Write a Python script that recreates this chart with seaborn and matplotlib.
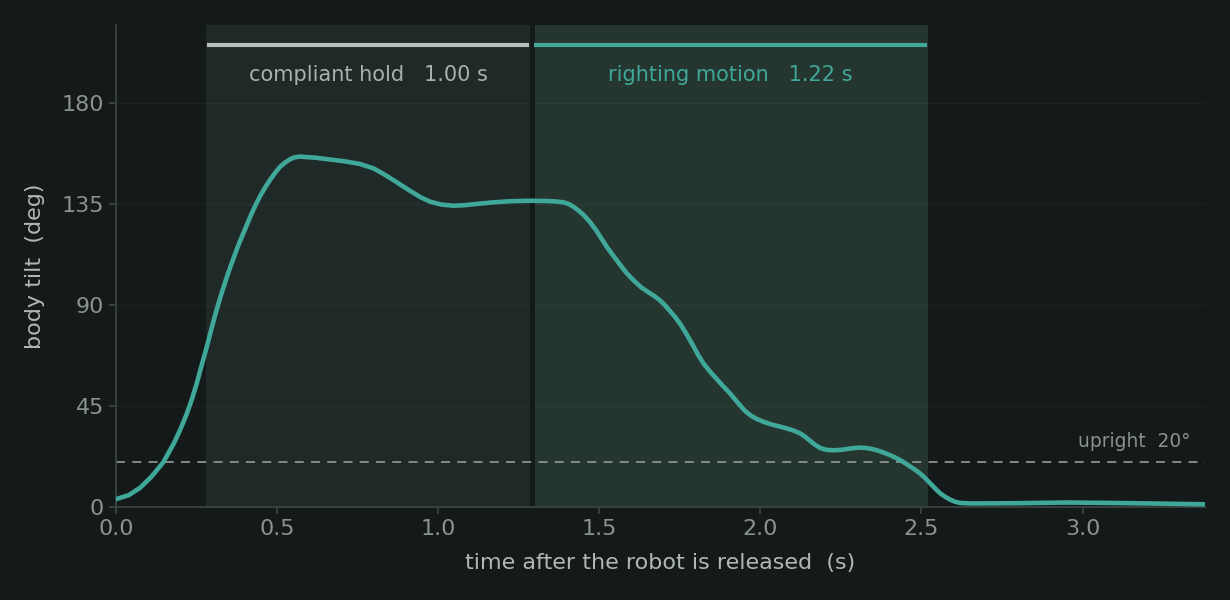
import numpy as np
import pandas as pd
import matplotlib
matplotlib.use("Agg")
import matplotlib.pyplot as plt
import seaborn as sns

# body tilt
time_s = [0.00, 0.04, 0.075, 0.11, 0.147, 0.18, 0.2, 0.219, 0.235, 0.25, 0.265, 0.281,
          0.295, 0.31, 0.327, 0.344, 0.357, 0.37, 0.382, 0.395, 0.408, 0.42, 0.433, 0.447,
          0.463, 0.48, 0.495, 0.509, 0.525, 0.54, 0.555, 0.571, 0.62, 0.665, 0.71, 0.758,
          0.80, 0.83, 0.87, 0.913, 0.945, 0.975, 1.01, 1.048, 1.08, 1.12, 1.17, 1.224,
          1.28, 1.337, 1.365, 1.389, 1.405, 1.42, 1.435, 1.451, 1.47, 1.49, 1.507, 1.524,
          1.545, 1.565, 1.585, 1.607, 1.63, 1.65, 1.67, 1.689, 1.705, 1.72, 1.735, 1.752,
          1.77, 1.79, 1.807, 1.824, 1.845, 1.865, 1.885, 1.907, 1.93, 1.95, 1.97, 1.99,
          2.01, 2.035, 2.06, 2.083, 2.105, 2.124, 2.14, 2.155, 2.17, 2.186, 2.205, 2.228,
          2.25, 2.27, 2.29, 2.311, 2.33, 2.345, 2.362, 2.38, 2.40, 2.418, 2.435, 2.452,
          2.47, 2.49, 2.507, 2.52, 2.535, 2.547, 2.559, 2.575, 2.59, 2.605, 2.621, 2.65,
          2.683, 2.80, 2.95, 3.10, 3.25, 3.38]
tilt_deg = [3.5, 5.3, 8.6, 13.5, 20.0, 28.5, 34.7, 41.3, 47.8, 54.8, 62.8, 71.0,
            78.8, 86.8, 95.0, 102.6, 107.9, 113.0, 117.6, 122.0, 126.5, 130.6, 134.6, 138.6,
            142.6, 146.3, 149.3, 151.7, 153.7, 155.1, 156.0, 156.3, 155.8, 155.0, 154.2, 153.0,
            151.0, 148.6, 145.0, 141.0, 138.2, 136.2, 134.9, 134.4, 134.6, 135.2, 135.9, 136.4,
            136.6, 136.5, 136.3, 135.9, 135.2, 133.9, 132.3, 130.3, 127.3, 123.5, 119.7, 115.9,
            111.8, 108.0, 104.3, 101.0, 98.0, 96.0, 94.2, 92.1, 89.8, 87.3, 84.8, 81.5,
            77.3, 72.3, 67.8, 63.9, 60.2, 57.0, 53.8, 50.5, 46.5, 43.2, 40.8, 39.2,
            38.0, 36.8, 35.9, 35.0, 34.0, 32.8, 31.2, 29.4, 27.7, 26.3, 25.5, 25.3,
            25.5, 25.9, 26.3, 26.5, 26.3, 25.9, 25.3, 24.4, 23.3, 22.1, 20.8, 19.3,
            17.6, 15.6, 13.5, 11.6, 9.4, 7.6, 6.0, 4.4, 3.2, 2.3, 1.8, 1.6,
            1.6, 1.7, 2.0, 1.8, 1.5, 1.2]

phase_names = ["compliant hold", "righting motion"]
phase_start = [0.28, 1.295]
phase_end = [1.285, 2.52]
phase_dur = [1.00, 1.22]
upright_thresh = 20
split_t = 1.29

bg = "#141919"
teal = "#3fa898"
span_cols = ["#1f2928", "#253530"]
bar_cols = ["#b9bdbb", teal]
label_cols = ["#a9b0ae", teal]
muted = "#8a9391"

sns.set_theme(style="dark")
plt.rcParams["font.family"] = ["DejaVu Sans"]

fig = plt.figure(figsize=(12.3, 6), dpi=100, facecolor=bg)
ax = fig.add_axes([0.0943, 0.155, 0.8854, 0.8033])
ax.set_facecolor(bg)

df = pd.DataFrame({"t": time_s, "tilt": tilt_deg})

for i in range(2):
    ax.axvspan(phase_start[i], phase_end[i], color=span_cols[i], zorder=0, lw=0)
    ax.plot([phase_start[i] + 0.003, phase_end[i] - 0.003], [206, 206],
            color=bar_cols[i], lw=3, solid_capstyle="butt", zorder=3)
    mid = (phase_start[i] + phase_end[i]) / 2
    ax.text(mid, 192.8, f"{phase_names[i]}   {phase_dur[i]:.2f} s",
            ha="center", va="center", fontsize=15, color=label_cols[i], zorder=4)

ax.axvline(split_t, color=bg, lw=3.6, zorder=2)

ax.axhline(upright_thresh, color=muted, lw=1.3, ls=(0, (5, 4)), zorder=2)
ax.text(3.335, 29.3, f"upright  {upright_thresh}°", ha="right", va="center",
        fontsize=13.4, color=muted)

sns.lineplot(data=df, x="t", y="tilt", ax=ax, color=teal, lw=3.3, zorder=5)
ax.lines[-1].set_solid_joinstyle("round")

ax.set_xlim(0, 3.38)
ax.set_ylim(0, 215)
ax.set_xticks([0, 0.5, 1.0, 1.5, 2.0, 2.5, 3.0])
ax.set_xticklabels(["0.0", "0.5", "1.0", "1.5", "2.0", "2.5", "3.0"])
ax.set_yticks([0, 45, 90, 135, 180])

ax.grid(axis="y", color="#ffffff", alpha=0.035, lw=1)
ax.grid(axis="x", visible=False)
for gl in ax.get_ygridlines():
    gl.set_zorder(1)
for s in ["top", "right"]:
    ax.spines[s].set_visible(False)
for s in ["left", "bottom"]:
    ax.spines[s].set_color("#3a4442")
    ax.spines[s].set_linewidth(1.3)

ax.tick_params(axis="both", colors="#3a4442", labelcolor=muted, labelsize=16,
               length=5, width=1.3, direction="out", bottom=True, left=True)
ax.set_xlabel("time after the robot is released  (s)", fontsize=16, color="#b0b8b6", labelpad=10)
ax.set_ylabel("body tilt  (deg)", fontsize=16, color="#b0b8b6", labelpad=12)

fig.savefig("out.png", dpi=100, facecolor=bg)
